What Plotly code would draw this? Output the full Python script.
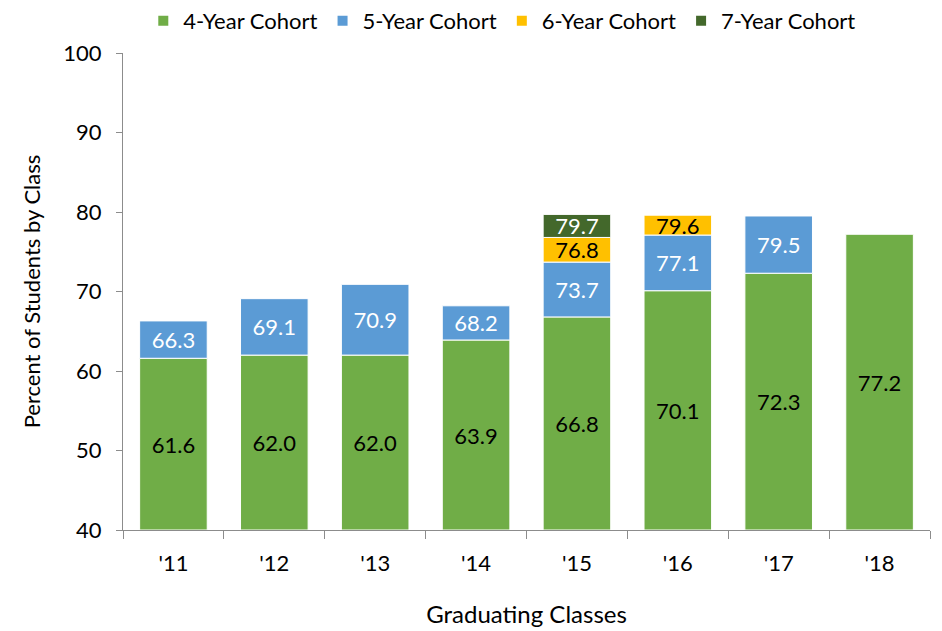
import plotly.graph_objects as go

classes = ["'11", "'12", "'13", "'14", "'15", "'16", "'17", "'18"]
# Cumulative graduation rates (percent) by cohort length
four_year = [61.6, 62.0, 62.0, 63.9, 66.8, 70.1, 72.3, 77.2]
five_year = [66.3, 69.1, 70.9, 68.2, 73.7, 77.1, 79.5, None]
six_year = [None, None, None, None, 76.8, 79.6, None, None]
seven_year = [None, None, None, None, 79.7, None, None, None]

AXIS_MIN = 40
FONT = "Lato"

series = [
    ("4-Year Cohort", four_year, "#70AD47", "black"),
    ("5-Year Cohort", five_year, "#5B9BD5", "white"),
    ("6-Year Cohort", six_year, "#FFC000", "black"),
    ("7-Year Cohort", seven_year, "#43682B", "white"),
]

fig = go.Figure()
prev = [AXIS_MIN] * len(classes)
for name, vals, color, txtcol in series:
    bases, lengths, texts = [], [], []
    for i, v in enumerate(vals):
        if v is None:
            bases.append(None)
            lengths.append(None)
            texts.append("")
        else:
            bases.append(prev[i])
            lengths.append(v - prev[i])
            texts.append(f"{v:.1f}")
            prev[i] = v
    fig.add_trace(go.Bar(
        name=name, x=classes, y=lengths, base=bases,
        marker=dict(color=color, line=dict(color="white", width=1)),
        text=texts, textposition="inside", insidetextanchor="middle",
        constraintext="none",
        textfont=dict(family=FONT, size=22, color=txtcol),
        hoverinfo="skip",
    ))

fig.update_layout(
    barmode="overlay",
    bargap=0.33,
    width=942, height=631,
    margin=dict(l=123, r=12, t=53, b=101),
    paper_bgcolor="white", plot_bgcolor="white",
    font=dict(family=FONT, color="black"),
    legend=dict(orientation="h", x=0.47, xanchor="center",
                yref="container", y=1.0, yanchor="top",
                font=dict(size=22), itemwidth=30, traceorder="normal",
                itemsizing="constant"),
    xaxis=dict(
        automargin=False,
        showline=True, linecolor="#8C8C8C", linewidth=1,
        ticks="outside", tickson="boundaries", ticklen=8, tickcolor="#8C8C8C",
        tickfont=dict(size=22), ticklabelstandoff=14,
        title=dict(text="Graduating Classes", font=dict(size=24), standoff=30),
    ),
    yaxis=dict(
        automargin=False,
        range=[AXIS_MIN, 100], dtick=10, showgrid=False, zeroline=False,
        showline=True, linecolor="#8C8C8C", linewidth=1,
        ticks="outside", ticklen=6, tickcolor="#8C8C8C",
        tickfont=dict(size=22), ticklabelstandoff=10,
        title=dict(text="Percent of Students by Class", font=dict(size=22), standoff=16),
    ),
)

fig.write_html("out.html")
